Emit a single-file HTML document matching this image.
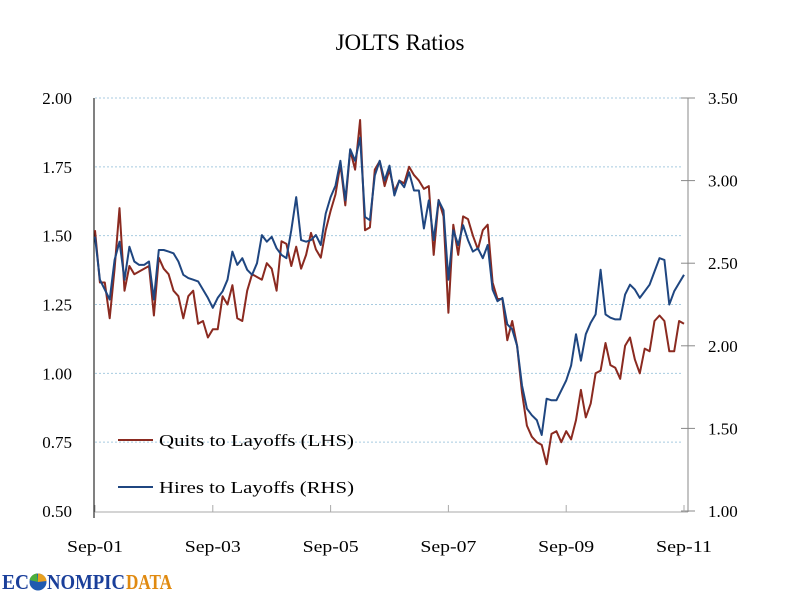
<!DOCTYPE html>
<html><head><meta charset="utf-8"><style>
body{margin:0;background:#fff;}
svg{display:block;font-family:"Liberation Serif",serif;}
</style></head><body>
<svg id="chart" width="800" height="600" viewBox="0 0 800 600">
<text x="400" y="50" text-anchor="middle" font-size="23" fill="#000">JOLTS Ratios</text>
<g id="grid"></g><g id="axes"></g><g id="series"></g>
<g>
<g><line x1="118" y1="440" x2="153" y2="440" stroke="#8b2a20" stroke-width="2"/><text x="159" y="446" font-size="17" textLength="195" lengthAdjust="spacingAndGlyphs">Quits to Layoffs (LHS)</text></g>
<g><line x1="118" y1="487" x2="153" y2="487" stroke="#1f4680" stroke-width="2"/><text x="159" y="493" font-size="17" textLength="195" lengthAdjust="spacingAndGlyphs">Hires to Layoffs (RHS)</text></g>
</g>
<g font-family="Liberation Serif,serif" font-weight="bold" font-size="21">
<text x="2" y="589" fill="#1a3f9a" textLength="27" lengthAdjust="spacingAndGlyphs">EC</text>
<circle cx="38" cy="582" r="8.5" fill="#1f5ab0"/>
<path d="M38 582 L38 573.5 A8.5 8.5 0 0 1 46.5 581 Z" fill="#e8a020"/>
<path d="M38 582 L29.5 580 A8.5 8.5 0 0 1 37 573.5 Z" fill="#4caf3c"/>
<text x="47" y="589" fill="#1a3f9a" textLength="78" lengthAdjust="spacingAndGlyphs">NOMPIC</text>
<text x="126" y="589" fill="#e08a10" textLength="46" lengthAdjust="spacingAndGlyphs">DATA</text>
</g>
</svg>
<script>
const dateLabels=["Sep-01","Sep-03","Sep-05","Sep-07","Sep-09","Sep-11"];
const leftTicks=[0.50,0.75,1.00,1.25,1.50,1.75,2.00];
const rightTicks=[1.00,1.50,2.00,2.50,3.00,3.50];
const quits=[1.52,1.33,1.33,1.20,1.38,1.60,1.30,1.39,1.36,1.37,1.38,1.39,1.21,1.42,1.38,1.36,1.30,1.28,1.20,1.28,1.30,1.18,1.19,1.13,1.16,1.16,1.28,1.25,1.32,1.20,1.19,1.30,1.36,1.35,1.34,1.40,1.38,1.30,1.48,1.47,1.39,1.46,1.38,1.43,1.51,1.45,1.42,1.52,1.59,1.65,1.76,1.61,1.81,1.74,1.92,1.52,1.53,1.74,1.77,1.68,1.74,1.66,1.70,1.69,1.75,1.72,1.70,1.67,1.68,1.43,1.63,1.57,1.22,1.54,1.43,1.57,1.56,1.50,1.45,1.52,1.54,1.33,1.27,1.27,1.12,1.19,1.10,0.93,0.81,0.77,0.75,0.74,0.67,0.78,0.79,0.75,0.79,0.76,0.83,0.94,0.84,0.89,1.00,1.01,1.11,1.03,1.02,0.98,1.10,1.13,1.05,1.00,1.09,1.08,1.19,1.21,1.19,1.08,1.08,1.19,1.18];
const hires=[2.66,2.40,2.34,2.28,2.52,2.63,2.40,2.60,2.51,2.49,2.49,2.51,2.28,2.58,2.58,2.57,2.56,2.51,2.43,2.41,2.40,2.39,2.34,2.29,2.23,2.29,2.33,2.40,2.57,2.49,2.53,2.46,2.43,2.50,2.67,2.63,2.66,2.59,2.55,2.53,2.70,2.90,2.64,2.63,2.64,2.67,2.61,2.80,2.90,2.97,3.12,2.88,3.19,3.12,3.26,2.78,2.76,3.03,3.12,3.00,3.09,2.91,3.00,2.96,3.05,2.94,2.94,2.71,2.88,2.64,2.88,2.82,2.40,2.70,2.61,2.73,2.64,2.57,2.59,2.53,2.61,2.34,2.27,2.29,2.13,2.10,2.00,1.76,1.62,1.58,1.55,1.46,1.68,1.67,1.67,1.73,1.79,1.88,2.07,1.91,2.07,2.14,2.19,2.46,2.19,2.17,2.16,2.16,2.31,2.37,2.34,2.29,2.33,2.37,2.45,2.53,2.52,2.25,2.33,2.38,2.43];
const NS="http://www.w3.org/2000/svg";
const X0=95,X1=684,YT=98,YB=511;
const xs=i=>X0+(X1-X0)*i/(quits.length-1);
const yL=v=>YB-(v-0.5)/1.5*(YB-YT);
const yR=v=>YB-(v-1.0)/2.5*(YB-YT);
function mk(tag,attrs,parent){const e=document.createElementNS(NS,tag);for(const k in attrs)e.setAttribute(k,attrs[k]);document.getElementById(parent).appendChild(e);return e;}
leftTicks.forEach(v=>{
 if(v>0.5){const g=mk('line',{x1:X0,x2:681,y1:yL(v),y2:yL(v),stroke:'#a8cbe0','stroke-dasharray':'2,2','stroke-width':1},'grid');
 
 }
 const t=mk('text',{x:72,y:yL(v)+6,'text-anchor':'end','font-size':17},'axes');t.textContent=v.toFixed(2);
 
 
});
rightTicks.forEach(v=>{
 const l=mk('line',{x1:681,x2:695,y1:yR(v),y2:yR(v),stroke:'#888'},'axes');
 
 
 const t=mk('text',{x:708,y:yR(v)+6,'font-size':17},'axes');t.textContent=v.toFixed(2);
 
 
});
const xa=mk('line',{x1:X0,x2:688,y1:512,y2:512,stroke:'#aaa'},'axes');


const ra=mk('line',{x1:688,x2:688,y1:YT,y2:512,stroke:'#888'},'axes');


const la=mk('line',{x1:94,x2:94,y1:YT,y2:518,stroke:'#000'},'axes');


dateLabels.forEach((d,k)=>{
 const x=xs(k*24);
 const tk=mk('line',{x1:x,x2:x,y1:505,y2:512,stroke:'#aaa'},'axes');
 
 
 const t=mk('text',{x:x,y:552,'text-anchor':'middle','font-size':17,textLength:56,lengthAdjust:'spacingAndGlyphs'},'axes');t.textContent=d;
 
 
});
const pq=mk('polyline',{points:quits.map((v,i)=>xs(i).toFixed(1)+','+yL(v).toFixed(1)).join(' '),fill:'none',stroke:'#8b2a20','stroke-width':2,'stroke-linejoin':'round'},'series');


const ph=mk('polyline',{points:hires.map((v,i)=>xs(i).toFixed(1)+','+yR(v).toFixed(1)).join(' '),fill:'none',stroke:'#1f4680','stroke-width':2,'stroke-linejoin':'round'},'series');


</script>
</body></html>
